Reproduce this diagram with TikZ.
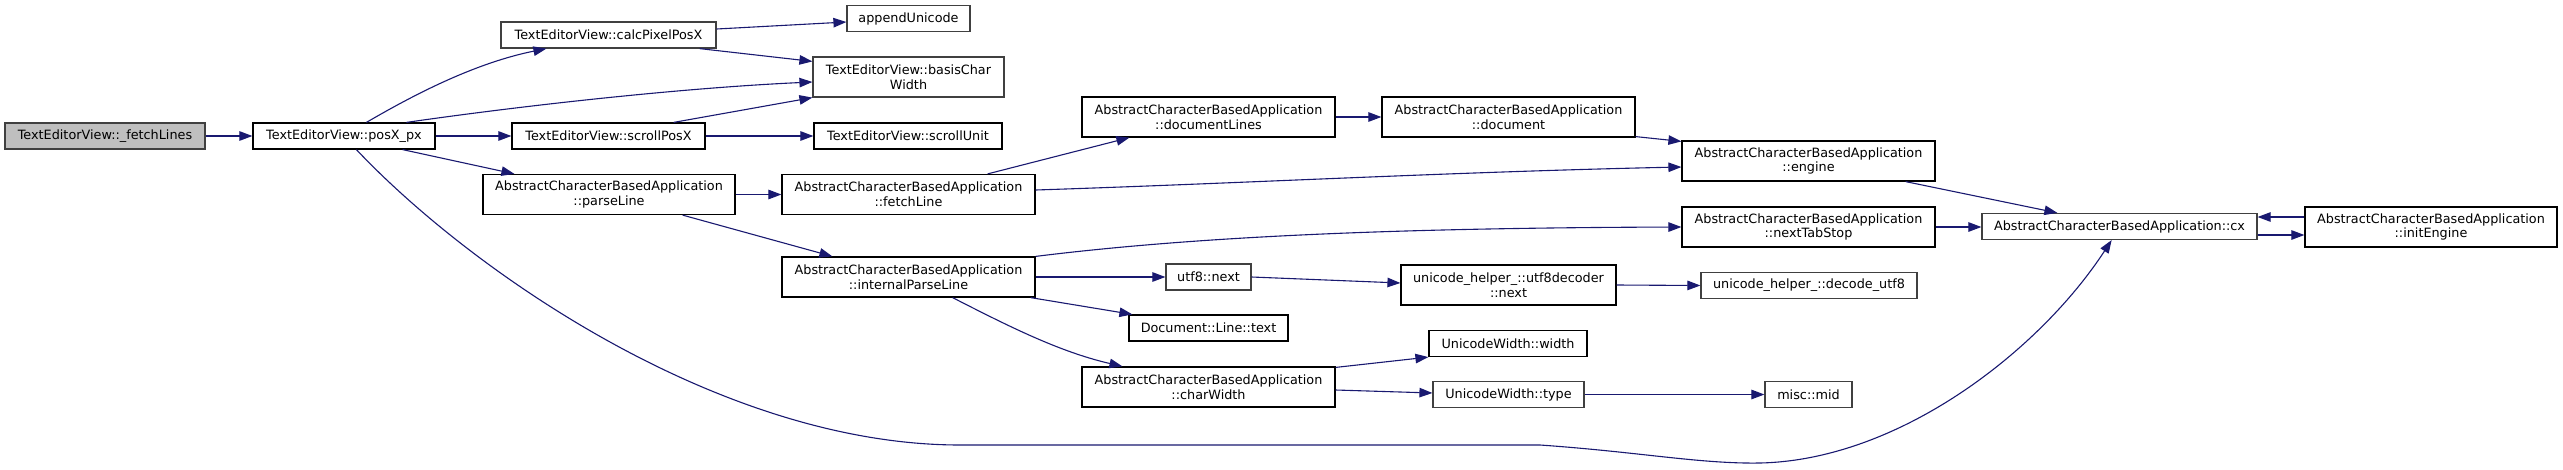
\documentclass[tikz,border=0pt]{standalone}
\usepackage{fontspec}
\setmainfont{DejaVu Sans}
\usetikzlibrary{arrows.meta}
\definecolor{edgecol}{HTML}{191970}
\definecolor{rootfill}{HTML}{BFBFBF}
\definecolor{greyline}{HTML}{404040}
\begin{document}
\begin{tikzpicture}[x=1pt,y=-1pt,
  box/.style={draw=black,line width=1.2pt,fill=white,inner sep=0pt,align=center,
    font=\fontsize{12.8}{14.7}\selectfont},
  gbox/.style={box,draw=greyline},
  root/.style={box,draw=greyline,fill=rootfill},
  one/.style={minimum height=26pt},
  two/.style={minimum height=40pt},
  edge/.style={draw=edgecol,line width=1.1pt,-{Triangle[length=13pt,width=9.5pt]}}
]
\useasboundingbox (0,0) rectangle (2563,469);
% nodes
\node[root,one,minimum width=200pt] (fetchLines) at (105,136) {TextEditorView::\_fetchLines};
\node[box,one,minimum width=182pt] (posX) at (344,136) {TextEditorView::posX\_px};
\node[gbox,one,minimum width=215pt] (calc) at (608.5,35) {TextEditorView::calcPixelPosX};
\node[gbox,one,minimum width=123pt] (append) at (908.5,18.5) {appendUnicode};
\node[gbox,two,minimum width=191pt] (basis) at (908.5,77) {TextEditorView::basisChar\\Width};
\node[box,one,minimum width=193pt] (scrollPosX) at (608.5,136) {TextEditorView::scrollPosX};
\node[box,one,minimum width=188pt] (scrollUnit) at (908,136) {TextEditorView::scrollUnit};
\node[box,two,minimum width=252pt] (parseLine) at (609,194.5) {AbstractCharacterBasedApplication\\::parseLine};
\node[box,two,minimum width=253pt] (fetchLine) at (908.5,194.5) {AbstractCharacterBasedApplication\\::fetchLine};
\node[box,two,minimum width=253pt] (internal) at (908.5,277) {AbstractCharacterBasedApplication\\::internalParseLine};
\node[box,two,minimum width=253pt] (docLines) at (1208.5,117) {AbstractCharacterBasedApplication\\::documentLines};
\node[box,two,minimum width=253pt] (document) at (1508.5,117) {AbstractCharacterBasedApplication\\::document};
\node[box,two,minimum width=253pt] (engine) at (1808.5,161) {AbstractCharacterBasedApplication\\::engine};
\node[box,two,minimum width=253pt] (nextTab) at (1808.5,227) {AbstractCharacterBasedApplication\\::nextTabStop};
\node[gbox,one,minimum width=85pt] (utfnext) at (1208.5,277) {utf8::next};
\node[box,two,minimum width=215pt] (decoder) at (1508.5,285) {unicode\_helper\_::utf8decoder\\::next};
\node[gbox,one,minimum width=216pt] (decode) at (1809,285.5) {unicode\_helper\_::decode\_utf8};
\node[box,one,minimum width=159pt] (doctext) at (1208.5,328) {Document::Line::text};
\node[box,two,minimum width=253pt] (charWidth) at (1208.5,387) {AbstractCharacterBasedApplication\\::charWidth};
\node[box,one,minimum width=158pt] (uwwidth) at (1508,343.5) {UnicodeWidth::width};
\node[gbox,one,minimum width=151pt] (uwtype) at (1508.5,394.5) {UnicodeWidth::type};
\node[gbox,one,minimum width=87pt] (mid) at (1808.5,394.5) {misc::mid};
\node[gbox,one,minimum width=275pt] (cx) at (2119.5,226.5) {AbstractCharacterBasedApplication::cx};
\node[box,two,minimum width=252pt] (initEngine) at (2431,227) {AbstractCharacterBasedApplication\\::initEngine};
% edges
\draw[edge] (fetchLines.east) -- (posX.west);
\draw[edge] ([xshift=114pt]posX.north west) .. controls (405,100) and (470,64) .. ([xshift=46pt]calc.south west);
\draw[edge] ([xshift=154pt]posX.north west) .. controls (520,106) and (680,88) .. ([yshift=-5pt]basis.west);
\draw[edge] ([yshift=6pt]calc.east) -- ([yshift=-3.5pt]append.west);
\draw[edge] ([xshift=-17pt]calc.south east) -- ([yshift=-5pt]basis.north west);
\draw[edge] ([xshift=-32pt]scrollPosX.north east) -- (basis.south west);
\draw[edge] (posX.east) -- (scrollPosX.west);
\draw[edge] (scrollPosX.east) -- (scrollUnit.west);
\draw[edge] ([xshift=-33pt]posX.south east) -- ([xshift=32pt]parseLine.north west);
\draw[edge] ([xshift=104pt]posX.south west) .. controls (470,270) and (720,445) .. (960,445)
  -- (1540,445) .. controls (1640,452) and (1700,464) .. (1760,463)
  .. controls (1900,460) and (2040,350) .. ([xshift=-146pt]cx.south east);
\draw[edge] (parseLine.east) -- (fetchLine.west);
\draw[edge] ([xshift=-53pt]parseLine.south east) -- ([xshift=51pt]internal.north west);
\draw[edge] ([xshift=-48pt]fetchLine.north east) -- ([xshift=48pt]docLines.south west);
\draw[edge] ([yshift=4.5pt]fetchLine.east) .. controls (1250,183) and (1450,172) .. ([yshift=-6pt]engine.west);
\draw[edge] (docLines.east) -- (document.west);
\draw[edge] ([yshift=1pt]document.south east) -- ([yshift=-1pt]engine.north west);
\draw[edge] ([xshift=-30pt]engine.south east) -- ([xshift=76pt]cx.north west);
\draw[edge] (nextTab.east) -- (cx.west |- nextTab.east);
\draw[edge] (internal.north east) .. controls (1200,236) and (1400,228) .. (nextTab.west);
\draw[edge] (internal.east) -- (utfnext.west);
\draw[edge] ([xshift=-5pt]internal.south east) -- ([xshift=4pt]doctext.north west);
\draw[edge] ([xshift=-83pt]internal.south east) .. controls (1010,327) and (1060,352) .. ([xshift=41pt]charWidth.north west);
\draw[edge] (utfnext.east) -- ([yshift=2pt]decoder.west);
\draw[edge] (decoder.east) -- (decode.west);
\draw[edge] ([yshift=-1pt]charWidth.north east) -- (uwwidth.south west);
\draw[edge] ([yshift=-3pt]charWidth.east) -- ([yshift=1.5pt]uwtype.west);
\draw[edge] (uwtype.east) -- (mid.west);
\draw[edge] ([yshift=10pt]initEngine.west) -- ([yshift=9.5pt]cx.east);
\draw[edge] ([yshift=-8.5pt]cx.east) -- ([yshift=-8pt]initEngine.west);
\end{tikzpicture}
\end{document}
